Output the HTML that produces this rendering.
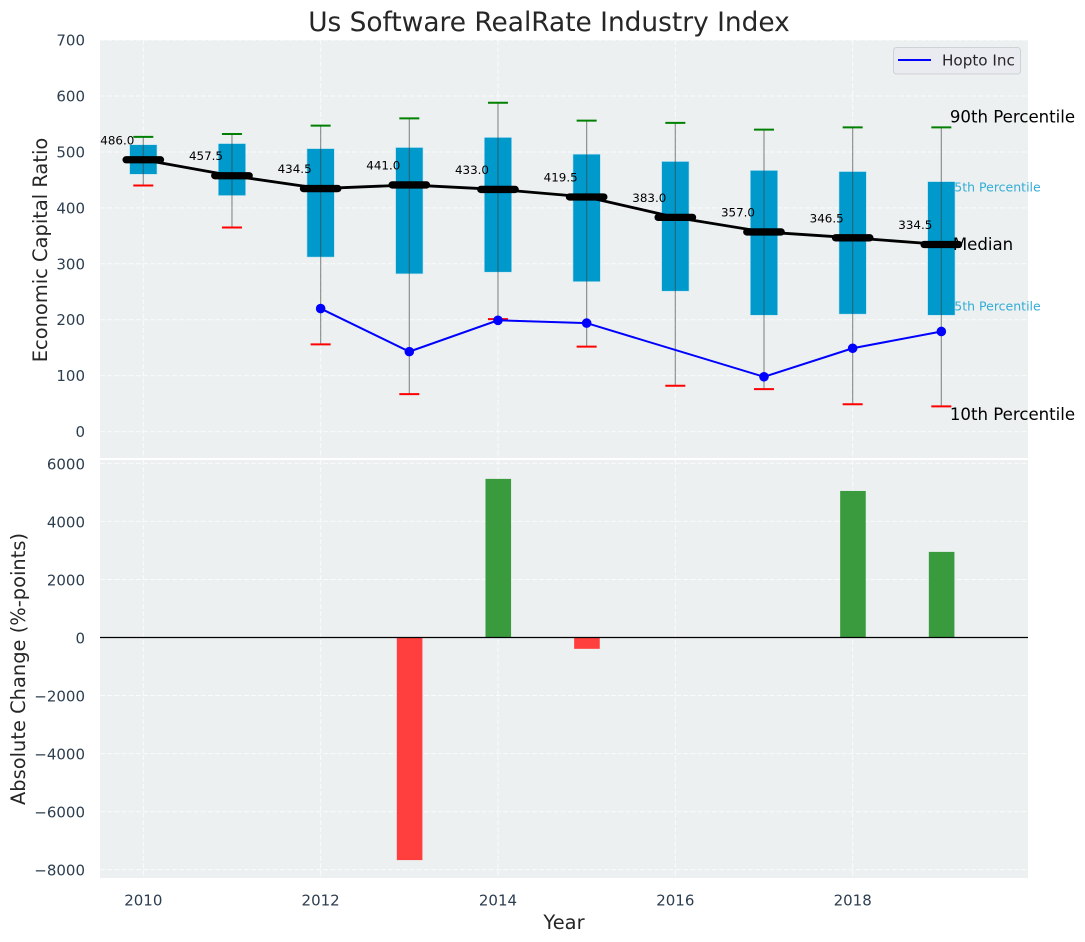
<!DOCTYPE html>
<html lang="en">
<head>
<meta charset="utf-8">
<title>Us Software RealRate Industry Index</title>
<style>
html,body{margin:0;padding:0;background:#fff;}
svg{display:block;font-family:"DejaVu Sans","Liberation Sans",sans-serif;}
</style>
</head>
<body>
<svg id="chart" xmlns="http://www.w3.org/2000/svg" width="1085" height="942" viewBox="0 0 1085 942"></svg>
<script>
const years = [2010, 2011, 2012, 2013, 2014, 2015, 2016, 2017, 2018, 2019];
const p90 = [527, 532, 547, 560, 588, 556, 552, 540, 544, 544];
const p75 = [513, 515, 506, 508, 526, 496, 483, 467, 465, 447];
const medians = [486.0, 457.5, 434.5, 441.0, 433.0, 419.5, 383.0, 357.0, 346.5, 334.5];
const p25 = [460, 422, 312, 282, 285, 268, 251, 208, 210, 208];
const p10 = [440, 365, 156, 67, 201, 152, 82, 76, 49, 45];
const hopto = [null, null, 220, 143, 199, 194, null, 98, 149, 179];
const changes = [null, null, null, -7670, 5466, -390, null, null, 5050, 2950];
const xTicks = [2010, 2012, 2014, 2016, 2018];
const topTicks = [0, 100, 200, 300, 400, 500, 600, 700];
const bottomTicks = [-8000, -6000, -4000, -2000, 0, 2000, 4000, 6000];

const NS = 'http://www.w3.org/2000/svg';
const svg = document.getElementById('chart');
const X = v => 143.3 + (v - 2010) * 88.67;
const YT = v => 431.6 - v * 0.5593;
const YB = v => 637.5 - v * 0.02902;
const L = 100, R = 1028, T1 = 40, B1 = 458, T2 = 460, B2 = 878;

function mk(tag, attrs, text) {
  const el = document.createElementNS(NS, tag);
  for (const k in attrs) el.setAttribute(k, attrs[k]);
  if (text !== undefined) el.textContent = text;
  svg.appendChild(el);
  return el;
}
function fmt(v) { return v < 0 ? '\u2212' + Math.abs(v) : String(v); }
const gridStyle = {stroke: '#ffffff', 'stroke-width': 1, 'stroke-dasharray': '5 2.2', 'stroke-opacity': 0.75};
let el;

el = mk('rect', {x: L, y: T1, width: R - L, height: B1 - T1, fill: '#ecf0f1'});


el = mk('rect', {x: L, y: T2, width: R - L, height: B2 - T2, fill: '#ecf0f1'});



xTicks.forEach(t => {
  el = mk('line', Object.assign({x1: X(t), x2: X(t), y1: T1, y2: B1}, gridStyle));
  
  
  el = mk('line', Object.assign({x1: X(t), x2: X(t), y1: T2, y2: B2}, gridStyle));
  
  
  el = mk('text', {x: X(t), y: 905.5, 'text-anchor': 'middle', 'font-size': 15, fill: '#2c3e50'}, String(t));
  
  
});
topTicks.forEach(t => {
  el = mk('line', Object.assign({x1: L, x2: R, y1: YT(t), y2: YT(t)}, gridStyle));
  
  
  el = mk('text', {x: 85, y: YT(t) + 5.5, 'text-anchor': 'end', 'font-size': 15, fill: '#2c3e50'}, fmt(t));
  
  
});
bottomTicks.forEach(t => {
  el = mk('line', Object.assign({x1: L, x2: R, y1: YB(t), y2: YB(t)}, gridStyle));
  
  
  el = mk('text', {x: 85, y: YB(t) + 6, 'text-anchor': 'end', 'font-size': 15, fill: '#2c3e50'}, fmt(t));
  
  
});

const last = years.length - 1;
const xLast = X(years[last]);
const bandStyle = {'font-size': 12.5, fill: '#33add6'};
el = mk('text', Object.assign({x: xLast + 5, y: YT(p75[last]) + 10}, bandStyle), '75th Percentile');


el = mk('text', Object.assign({x: xLast + 5, y: YT(p25[last]) - 4.6}, bandStyle), '25th Percentile');



years.forEach((yr, i) => {
  const x = X(yr);
  el = mk('rect', {x: x - 13.7, y: YT(p75[i]), width: 27.4, height: YT(p25[i]) - YT(p75[i]), fill: '#0099cc', stroke: '#bfe5f2', 'stroke-width': 0.6});
  
  
  el = mk('line', {x1: x, x2: x, y1: YT(p90[i]), y2: YT(p10[i]), stroke: '#404040', 'stroke-opacity': 0.55, 'stroke-width': 1.2});
  
  
  el = mk('line', {x1: x - 10, x2: x + 10, y1: YT(p90[i]), y2: YT(p90[i]), stroke: '#008000', 'stroke-width': 2});
  
  
  el = mk('line', {x1: x - 10, x2: x + 10, y1: YT(p10[i]), y2: YT(p10[i]), stroke: '#ff0000', 'stroke-width': 2});
  
  
});

el = mk('polyline', {points: years.map((yr, i) => X(yr) + ',' + YT(medians[i])).join(' '), fill: 'none', stroke: '#000000', 'stroke-width': 2.8});



years.forEach((yr, i) => {
  const x = X(yr);
  el = mk('line', {x1: x - 17.2, x2: x + 17.2, y1: YT(medians[i]), y2: YT(medians[i]), stroke: '#000000', 'stroke-width': 7.3, 'stroke-linecap': 'round'});
  
  
  el = mk('text', {x: x - 26, y: YT(medians[i]) - 15.5, 'text-anchor': 'middle', 'font-size': 11.9, fill: '#000000'}, medians[i].toFixed(1));
  
  
});

const hoptoPts = years.map((yr, i) => ({yr: yr, v: hopto[i]})).filter(p => p.v !== null);
el = mk('polyline', {points: hoptoPts.map(p => X(p.yr) + ',' + YT(p.v)).join(' '), fill: 'none', stroke: '#0000ff', 'stroke-width': 2});


hoptoPts.forEach(p => {
  el = mk('circle', {cx: X(p.yr), cy: YT(p.v), r: 4.8, fill: '#0000ff'});
  
  
});

const bigStyle = {'font-size': 16.6, fill: '#000000'};
el = mk('text', Object.assign({x: xLast + 8.5, y: YT(p90[last]) - 4.6}, bigStyle), '90th Percentile');


el = mk('text', Object.assign({x: xLast + 11.5, y: YT(medians[last]) + 5.5}, bigStyle), 'Median');


el = mk('text', Object.assign({x: xLast + 8.5, y: YT(p10[last]) + 13.6}, bigStyle), '10th Percentile');



years.forEach((yr, i) => {
  if (changes[i] === null) return;
  const v = changes[i];
  const top = v >= 0 ? YB(v) : YB(0);
  const h = Math.abs(YB(v) - YB(0));
  el = mk('rect', {x: X(yr) - 12.5, y: top, width: 25.6, height: h, fill: v >= 0 ? '#3a9b3e' : '#ff3e3e'});
  
  
});
el = mk('line', {x1: L, x2: R, y1: YB(0), y2: YB(0), stroke: '#000000', 'stroke-width': 1.2});



el = mk('rect', {x: 893.5, y: 47.5, width: 127, height: 26.5, rx: 3, fill: '#e9ebf1', stroke: '#cfd1d6', 'stroke-width': 1});


el = mk('line', {x1: 898, x2: 931, y1: 60, y2: 60, stroke: '#0000ff', 'stroke-width': 2});


el = mk('text', {x: 942, y: 65.5, 'font-size': 15.2, fill: '#262626'}, 'Hopto Inc');



el = mk('text', {x: 549, y: 31, 'text-anchor': 'middle', 'font-size': 26.4, fill: '#262626'}, 'Us Software RealRate Industry Index');


el = mk('text', {x: 564, y: 929, 'text-anchor': 'middle', 'font-size': 19.44, fill: '#262626'}, 'Year');


el = mk('text', {x: 0, y: 0, transform: 'translate(47,250) rotate(-90)', 'text-anchor': 'middle', 'font-size': 19.44, fill: '#262626'}, 'Economic Capital Ratio');


el = mk('text', {x: 0, y: 0, transform: 'translate(25,669) rotate(-90)', 'text-anchor': 'middle', 'font-size': 19.44, fill: '#262626'}, 'Absolute Change (%-points)');


</script>
</body>
</html>
